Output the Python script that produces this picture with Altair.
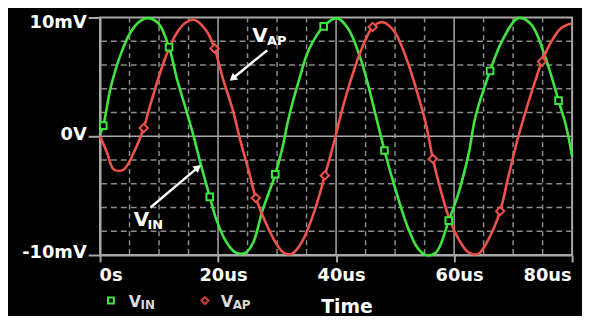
import altair as alt
import pandas as pd

# ---------------- data ----------------
vin_t = [0, 0.55, 1.8, 3.5, 5.1, 6.8, 8.2, 9.9, 11.7, 13.0, 14.6, 15.8, 17.2, 18.6, 19.7,
         21.4, 23.0, 24.7, 26.0, 27.5, 29.7, 30.9, 32.0, 33.7, 35.4, 37.9, 40.1, 42.0,
         44.3, 46.5, 48.2, 49.9, 52.1, 53.8, 55.2, 56.9, 59.1, 60.8, 62.5, 63.6, 66.1,
         68.1, 70.9, 73.1, 75.3, 77.7, 79.0, 80.0]
vin_v = [0.2, 0.9, 4.1, 6.9, 8.7, 9.7, 9.95, 9.5, 7.5, 4.9, 2.2, 0.1, -2.6, -5.1, -7.0,
         -8.9, -9.8, -9.8, -8.9, -6.3, -3.2, -1.0, 1.6, 4.7, 7.3, 9.25, 9.95, 9.1,
         6.3, 2.2, -1.2, -4.2, -7.6, -9.4, -10.0, -9.8, -7.1, -4.7, -1.4, 1.6, 5.5,
         8.0, 9.95, 9.4, 6.9, 3.0, 0.8, -1.7]

vap_t = [0, 1.2, 2.35, 4.0, 5.7, 7.4, 8.5, 9.9, 11.3, 13.0, 14.6, 16.05, 18.0, 19.4,
         20.8, 22.5, 23.9, 25.3, 26.4, 28.1, 29.7, 31.1, 32.5, 34.2, 36.4, 38.1, 39.5,
         40.9, 42.6, 44.3, 46.2, 47.9, 49.9, 52.1, 53.5, 55.2, 56.4, 57.7, 59.1, 60.8,
         62.5, 64.1, 65.8, 67.8, 69.2, 70.9, 72.5, 73.9, 74.9, 76.5, 78.1, 79.8]
vap_v = [0, -1.4, -2.8, -2.8, -1.4, 0.7, 2.6, 4.9, 6.9, 8.7, 9.6, 9.8, 8.9, 7.4,
         4.9, 2.2, -0.6, -3.1, -5.2, -7.3, -8.9, -9.8, -9.9, -8.9, -6.2, -3.3, -0.8,
         2.0, 4.9, 7.3, 9.2, 9.6, 8.8, 6.3, 4.1, 1.1, -1.9, -4.5, -6.8, -8.7,
         -9.8, -9.9, -8.7, -6.3, -3.4, 0.0, 2.7, 4.9, 6.3, 8.0, 9.1, 9.5]

vin_mark_t = [0.55, 11.7, 18.6, 29.7, 37.9, 48.2, 59.1, 66.1, 77.7]
vin_mark_v = [0.9, 7.5, -5.1, -3.2, 9.25, -1.2, -7.1, 5.5, 3.0]
vap_mark_t = [7.4, 19.4, 26.4, 38.1, 46.2, 56.4, 67.8, 74.9]
vap_mark_v = [0.7, 7.4, -5.2, -3.3, 9.2, -1.9, -6.3, 6.3]

x_ticks = [0, 20, 40, 60, 80]
y_ticks = [-10, 0, 10]
x_minor = [5, 10, 15, 25, 30, 35, 45, 50, 55, 65, 70, 75]
x_major = [20, 40, 60]
y_minor = [-8, -6, -4, -2, 2, 4, 6, 8]
y_major = [0]

# annotations (data coordinates)
ann_big_text = ["V", "V"]
ann_big_t = [25.8, 5.7]
ann_big_v = [8.4, -7.05]
ann_sub_text = ["AP", "IN"]
ann_sub_t = [28.3, 8.05]
ann_sub_v = [7.65, -7.85]
arrow_t0 = [28.34, 8.55]
arrow_v0 = [7.25, -6.0]
arrow_t1 = [22.47, 16.6]
arrow_v1 = [4.87, -2.62]
arrow_angle = [231, 50]

GREEN = "#3FE63F"
RED = "#F0524C"
GRIDC = "#8c8c8c"
MAJORC = "#a8a8a8"
FONT = "DejaVu Sans"

W, H = 477, 240
xs = alt.Scale(domain=[0, 80], nice=False, zero=False)
ys = alt.Scale(domain=[-10, 10], nice=False, zero=False)

xaxis = alt.Axis(
    values=x_ticks,
    labelExpr="datum.value == 0 ? '0s' : datum.value + 'us'",
    title="Time", grid=False,
    domainColor=MAJORC, domainWidth=2, tickColor=MAJORC, tickWidth=2, tickSize=7,
    labelColor="white", labelFont=FONT, labelFontWeight="bold", labelFontSize=18,
    labelPadding=5, labelFlush=True,
    labelOffset={"condition": {"test": "datum.value % 80 == 0", "value": -1}, "value": 5},
    titleColor="white", titleFont=FONT, titleFontWeight="bold", titleFontSize=19,
    titleX=249, titleY=52, titleBaseline="middle", titleAlign="center",
)
yaxis = alt.Axis(
    values=y_ticks,
    labelExpr="datum.value == 0 ? '0V' : datum.value + 'mV'",
    title=None, grid=False,
    domainColor=MAJORC, domainWidth=2, tickColor=MAJORC, tickWidth=2, tickSize=12,
    labelColor="white", labelFont=FONT, labelFontWeight="bold", labelFontSize=18,
    labelPadding=2, labelBaseline="middle",
    labelOffset={"condition": {"test": "datum.value > 5", "value": 5}, "value": -2},
)

# grid
gx_minor = alt.Chart(pd.DataFrame({"t": x_minor})).mark_rule(
    color=GRIDC, strokeWidth=1.5, strokeDash=[5, 4]).encode(x=alt.X("t:Q", scale=xs, axis=xaxis))
gx_major = alt.Chart(pd.DataFrame({"t": x_major})).mark_rule(
    color=MAJORC, strokeWidth=1.5).encode(x=alt.X("t:Q", scale=xs, axis=xaxis))
gy_minor = alt.Chart(pd.DataFrame({"v": y_minor})).mark_rule(
    color=GRIDC, strokeWidth=1.5, strokeDash=[6, 4]).encode(y=alt.Y("v:Q", scale=ys, axis=yaxis))
gy_major = alt.Chart(pd.DataFrame({"v": y_major})).mark_rule(
    color=MAJORC, strokeWidth=1.5).encode(y=alt.Y("v:Q", scale=ys, axis=yaxis))

lines_df = pd.concat([
    pd.DataFrame({"t": vin_t, "v": vin_v, "s": "VIN"}),
    pd.DataFrame({"t": vap_t, "v": vap_v, "s": "VAP"}),
])
color_scale = alt.Scale(domain=["VIN", "VAP"], range=[GREEN, RED])
lines = alt.Chart(lines_df).mark_line(strokeWidth=2.6, interpolate="catmull-rom").encode(
    x=alt.X("t:Q", scale=xs, axis=xaxis),
    y=alt.Y("v:Q", scale=ys, axis=yaxis),
    color=alt.Color("s:N", scale=color_scale, legend=None),
)

vin_pts = alt.Chart(pd.DataFrame({"t": vin_mark_t, "v": vin_mark_v})).mark_point(
    shape="square", size=45, filled=True, fill="black", stroke=GREEN, strokeWidth=2, opacity=1
).encode(x=alt.X("t:Q", scale=xs, axis=xaxis), y=alt.Y("v:Q", scale=ys, axis=yaxis))
vap_pts = alt.Chart(pd.DataFrame({"t": vap_mark_t, "v": vap_mark_v})).mark_point(
    shape="diamond", size=70, filled=True, fill="black", stroke=RED, strokeWidth=2, opacity=1
).encode(x=alt.X("t:Q", scale=xs, axis=xaxis), y=alt.Y("v:Q", scale=ys, axis=yaxis))

# annotations
big = alt.Chart(pd.DataFrame({"t": ann_big_t, "v": ann_big_v, "txt": ann_big_text})).mark_text(
    font=FONT, fontWeight="bold", fontSize=20, color="white", align="left", baseline="middle"
).encode(x=alt.X("t:Q", scale=xs), y=alt.Y("v:Q", scale=ys), text="txt:N")
sub = alt.Chart(pd.DataFrame({"t": ann_sub_t, "v": ann_sub_v, "txt": ann_sub_text})).mark_text(
    font=FONT, fontWeight="bold", fontSize=13, color="white", align="left", baseline="alphabetic"
).encode(x=alt.X("t:Q", scale=xs), y=alt.Y("v:Q", scale=ys), text="txt:N")
arrows_df = pd.DataFrame({"t0": arrow_t0, "v0": arrow_v0, "t1": arrow_t1, "v1": arrow_v1,
                          "a": arrow_angle})
arrow_lines = alt.Chart(arrows_df).mark_rule(color="white", strokeWidth=2.5).encode(
    x=alt.X("t0:Q", scale=xs), y=alt.Y("v0:Q", scale=ys), x2="t1:Q", y2="v1:Q")
arrow_heads = alt.Chart(arrows_df).mark_point(
    shape="triangle-up", size=75, filled=True, color="white", opacity=1).encode(
    x=alt.X("t1:Q", scale=xs), y=alt.Y("v1:Q", scale=ys),
    angle=alt.Angle("a:Q", scale=None))

# legend (below the plot)
leg_g = alt.Chart(pd.DataFrame({"k": [0]})).mark_point(
    shape="square", size=36, filled=True, fill="black", stroke=GREEN, strokeWidth=2, opacity=1
).encode(x=alt.value(11), y=alt.value(286))
leg_r = alt.Chart(pd.DataFrame({"k": [0]})).mark_point(
    shape="diamond", size=50, filled=True, fill="black", stroke="#D23C3C", strokeWidth=2, opacity=1
).encode(x=alt.value(106), y=alt.value(286))
LEGC = "#dcdcdc"
leg_v1 = alt.Chart(pd.DataFrame({"k": [0]})).mark_text(
    text="V", font=FONT, fontWeight="bold", fontSize=16, color=LEGC, align="left", baseline="middle"
).encode(x=alt.value(29), y=alt.value(288))
leg_s1 = alt.Chart(pd.DataFrame({"k": [0]})).mark_text(
    text="IN", font=FONT, fontWeight="bold", fontSize=12, color=LEGC, align="left", baseline="alphabetic"
).encode(x=alt.value(41), y=alt.value(295))
leg_v2 = alt.Chart(pd.DataFrame({"k": [0]})).mark_text(
    text="V", font=FONT, fontWeight="bold", fontSize=16, color=LEGC, align="left", baseline="middle"
).encode(x=alt.value(122), y=alt.value(288))
leg_s2 = alt.Chart(pd.DataFrame({"k": [0]})).mark_text(
    text="AP", font=FONT, fontWeight="bold", fontSize=12, color=LEGC, align="left", baseline="alphabetic"
).encode(x=alt.value(134), y=alt.value(295))

chart = alt.layer(
    gx_minor, gy_minor, gx_major, gy_major, lines, vin_pts, vap_pts,
    arrow_lines, arrow_heads, big, sub,
    leg_g, leg_r, leg_v1, leg_s1, leg_v2, leg_s2,
).properties(
    width=W, height=H,
    background="black",
    padding={"left": 93, "top": 8, "right": 10, "bottom": 60},
    autosize=alt.AutoSizeParams(type="none"),
).configure_view(
    stroke=MAJORC, strokeWidth=2, fill="black"
)

chart.save("out.html", embed_options={"renderer": "svg", "actions": False})
